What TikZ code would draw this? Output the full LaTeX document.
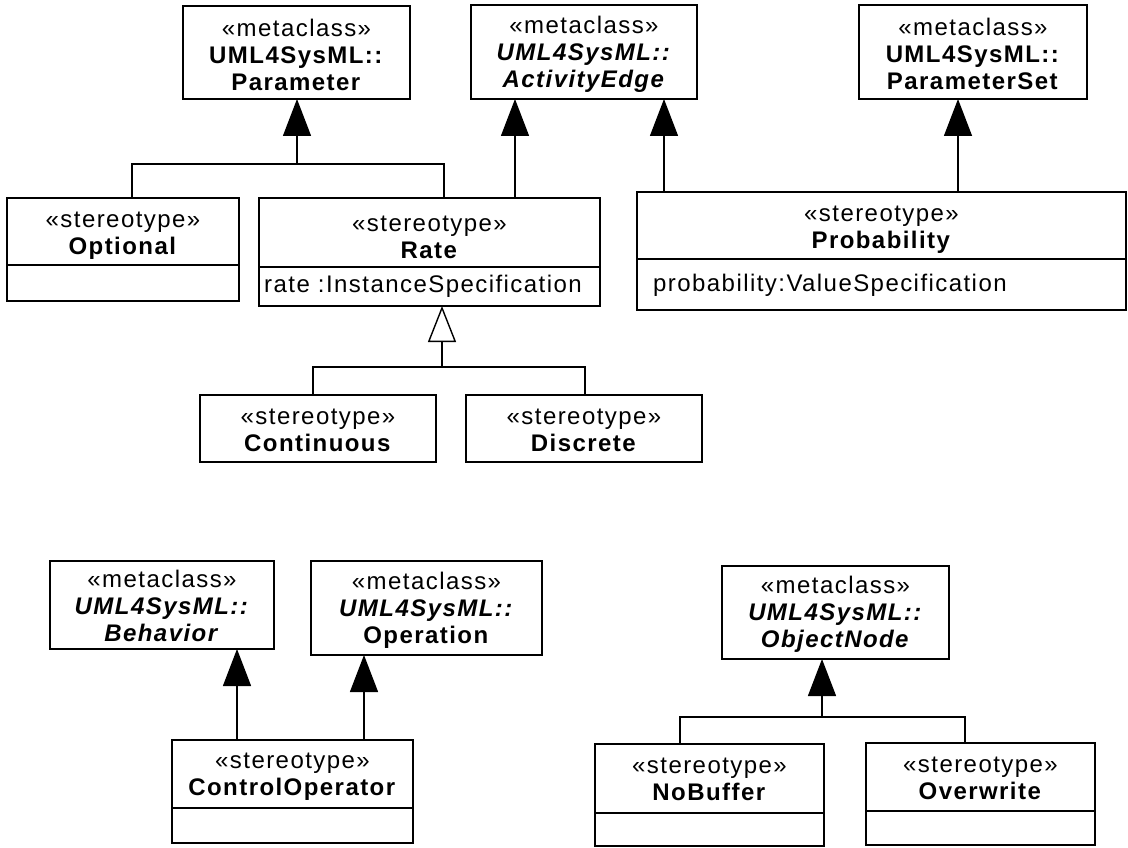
\documentclass[tikz,border=0pt]{standalone}
\usepackage{fontspec}
\setmainfont{Liberation Sans}[LetterSpace=6.0]
\usetikzlibrary{arrows.meta,calc}
\begin{document}
\begin{tikzpicture}[x=1pt,y=-1pt,
  box/.style={draw, line width=1.5pt, inner sep=0pt, outer sep=0pt, anchor=north west, fill=white},
  txt/.style={align=center, inner sep=0pt, font=\fontsize{24}{27}\selectfont},
  attr/.style={anchor=west, inner sep=0pt, font=\fontsize{24}{27}\selectfont},
  conn/.style={line width=1.4pt},
  inh/.style={conn, -{Triangle[length=37pt,width=28pt]}},
  opn/.style={conn, -{Triangle[open,length=36pt,width=28pt,fill=white]}},
  divl/.style={line width=1.5pt}]
\useasboundingbox (0,0) rectangle (1128,848);

% ---------- boxes ----------
\node[box, minimum width=227pt, minimum height=93pt] (param) at (183,6) {};
\node[box, minimum width=226pt, minimum height=94pt] (ae) at (471,5) {};
\node[box, minimum width=228pt, minimum height=94pt] (pset) at (859,5) {};
\node[box, minimum width=232pt, minimum height=103pt] (opt) at (7,198) {};
\node[box, minimum width=341pt, minimum height=108pt] (rate) at (259,198) {};
\node[box, minimum width=489pt, minimum height=118pt] (prob) at (637,192) {};
\node[box, minimum width=236pt, minimum height=67pt] (cont) at (200,395) {};
\node[box, minimum width=236pt, minimum height=67pt] (disc) at (466,395) {};
\node[box, minimum width=224pt, minimum height=88pt] (beh) at (50,561) {};
\node[box, minimum width=231pt, minimum height=94pt] (oper) at (311,561) {};
\node[box, minimum width=241pt, minimum height=103pt] (ctrl) at (172,740) {};
\node[box, minimum width=227pt, minimum height=93pt] (obj) at (722,566) {};
\node[box, minimum width=229pt, minimum height=102pt] (nobuf) at (595,744) {};
\node[box, minimum width=229pt, minimum height=102pt] (over) at (866,743) {};

% ---------- compartment dividers ----------
\draw[divl] ($(opt.north west)+(0,67)$) -- ($(opt.north east)+(0,67)$);
\draw[divl] ($(rate.north west)+(0,69)$) -- ($(rate.north east)+(0,69)$);
\draw[divl] ($(prob.north west)+(0,67)$) -- ($(prob.north east)+(0,67)$);
\draw[divl] ($(ctrl.north west)+(0,68)$) -- ($(ctrl.north east)+(0,68)$);
\draw[divl] ($(nobuf.north west)+(0,69)$) -- ($(nobuf.north east)+(0,69)$);
\draw[divl] ($(over.north west)+(0,68)$) -- ($(over.north east)+(0,68)$);

% ---------- texts ----------
\node[txt] (paramT) at ($(param.center)+(0,2)$) {«metaclass»\\\textbf{UML4SysML::}\\\textbf{Parameter}};
\node[txt] (aeT) at ($(ae.center)+(0,2)$) {«metaclass»\\\textbf{\textit{UML4SysML::}}\\\textbf{\textit{ActivityEdge}}};
\node[txt] (psetT) at ($(pset.center)+(0,2)$) {«metaclass»\\\textbf{UML4SysML::}\\\textbf{ParameterSet}};
\node[txt] (begT) at ($(beh.center)+(0,1)$) {«metaclass»\\\textbf{\textit{UML4SysML::}}\\\textbf{\textit{Behavior}}};
\node[txt] (operT) at ($(oper.center)+(0,2)$) {«metaclass»\\\textbf{\textit{UML4SysML::}}\\\textbf{Operation}};
\node[txt] (objT) at ($(obj.center)+(0,2)$) {«metaclass»\\\textbf{\textit{UML4SysML::}}\\\textbf{\textit{ObjectNode}}};

\node[txt] (optT) at ($(opt.north)+(0,38)$) {«stereotype»\\\textbf{Optional}};
\node[txt] (rateT) at ($(rate.north)+(0,39)$) {«stereotype»\\\textbf{Rate}};
\node[txt] (probT) at ($(prob.north)+(0,38)$) {«stereotype»\\\textbf{Probability}};
\node[txt] (contT) at ($(cont.north)+(0,35)$) {«stereotype»\\\textbf{Continuous}};
\node[txt] (discT) at ($(disc.north)+(0,35)$) {«stereotype»\\\textbf{Discrete}};
\node[txt] (ctrlT) at ($(ctrl.north)+(0,37)$) {«stereotype»\\\textbf{ControlOperator}};
\node[txt] (nobufT) at ($(nobuf.north)+(0,35)$) {«stereotype»\\\textbf{NoBuffer}};
\node[txt] (overT) at ($(over.north)+(0,35)$) {«stereotype»\\\textbf{Overwrite}};

\node[attr] (rateA) at ($(rate.north west)+(5,88.5)$) {rate :InstanceSpecification};
\node[attr] (probA) at ($(prob.north west)+(16,93)$) {probability:ValueSpecification};

% ---------- connectors ----------
% Parameter generalization tree
\coordinate (pj) at (297,164);
\draw[conn] ($(opt.north west)+(125,0)$) |- (pj) -| ($(rate.north west)+(185,0)$);
\draw[inh] (pj) -- (pj |- param.south);

% Rate / Probability -> ActivityEdge, Probability -> ParameterSet
\coordinate (r1) at ($(rate.north west)+(256,0)$);
\draw[inh] (r1) -- (r1 |- ae.south);
\coordinate (p1) at ($(prob.north west)+(27,0)$);
\draw[inh] (p1) -- (p1 |- ae.south);
\coordinate (p2) at ($(prob.north west)+(321,0)$);
\draw[inh] (p2) -- (p2 |- pset.south);

% Rate specialization tree
\coordinate (rj) at (442,367);
\draw[conn] ($(cont.north west)+(113,0)$) |- (rj) -| ($(disc.north west)+(119,0)$);
\draw[opn] (rj) -- (rj |- rate.south);

% ControlOperator
\coordinate (c1) at ($(ctrl.north west)+(65,0)$);
\draw[inh] (c1) -- (c1 |- beh.south);
\coordinate (c2) at ($(ctrl.north west)+(192,0)$);
\draw[inh] (c2) -- (c2 |- oper.south);

% ObjectNode tree
\coordinate (oj) at (822,717);
\draw[conn] ($(nobuf.north west)+(85,0)$) |- (oj) -| ($(over.north west)+(99,0)$);
\draw[inh] (oj) -- (oj |- obj.south);
\end{tikzpicture}
\end{document}
